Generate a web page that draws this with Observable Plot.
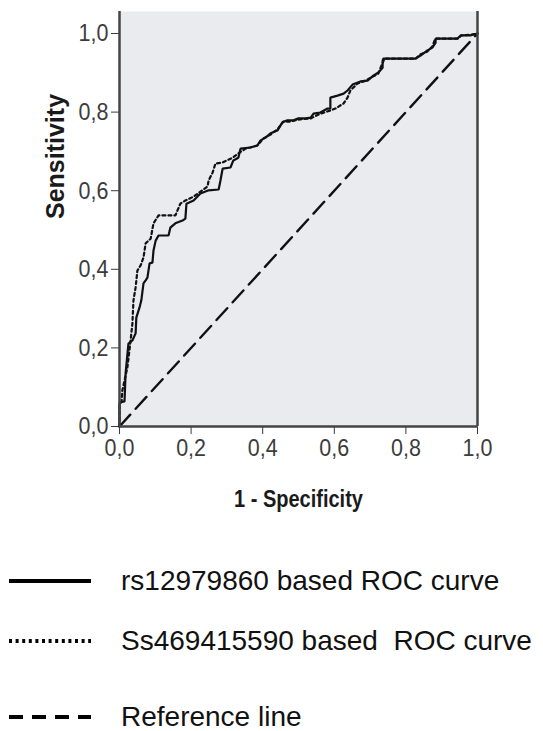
<!DOCTYPE html>
<html>
<head>
<meta charset="utf-8">
<script src="https://cdn.jsdelivr.net/npm/d3@7"></script>
<script src="https://cdn.jsdelivr.net/npm/@observablehq/plot@0.6"></script>
<style>
  html, body { margin: 0; padding: 0; background: #fff; }
  #wrap { position: relative; width: 543px; height: 731px; overflow: hidden; }
  #legend { position: absolute; left: 0; top: 530px; width: 543px; height: 201px; }
  .item { position: absolute; left: 0; width: 543px; height: 40px; }
  .item svg { position: absolute; left: 0; top: 0; }
  .item span { position: absolute; left: 121px; top: 0; line-height: 40px; font-family: "Liberation Sans", Arial, sans-serif; font-size: 28px; color: #111; white-space: pre; }
</style>
</head>
<body>
<div id="wrap"><div id="chart"></div><div id="legend"></div></div>
<script>
// ---- data ----
const solidX = [0, 0, 0.014, 0.017, 0.025, 0.036, 0.045, 0.047, 0.056, 0.061, 0.067, 0.073, 0.078, 0.084, 0.092, 0.095, 0.101, 0.109, 0.137, 0.142, 0.156, 0.176, 0.184, 0.187, 0.207, 0.226, 0.249, 0.277, 0.282, 0.288, 0.310, 0.318, 0.332, 0.338, 0.366, 0.385, 0.394, 0.408, 0.422, 0.441, 0.455, 0.469, 0.486, 0.500, 0.520, 0.534, 0.542, 0.561, 0.581, 0.589, 0.589, 0.609, 0.626, 0.637, 0.651, 0.673, 0.693, 0.709, 0.723, 0.735, 0.735, 0.737, 0.827, 0.841, 0.860, 0.874, 0.883, 0.883, 0.944, 0.953, 0.980, 1];
const solidY = [0, 0.061, 0.064, 0.135, 0.211, 0.219, 0.237, 0.277, 0.303, 0.321, 0.364, 0.372, 0.379, 0.415, 0.417, 0.448, 0.473, 0.486, 0.486, 0.506, 0.517, 0.524, 0.529, 0.567, 0.575, 0.593, 0.601, 0.603, 0.626, 0.656, 0.659, 0.677, 0.684, 0.707, 0.710, 0.715, 0.728, 0.735, 0.746, 0.753, 0.774, 0.779, 0.779, 0.784, 0.784, 0.786, 0.796, 0.799, 0.809, 0.809, 0.837, 0.842, 0.847, 0.855, 0.870, 0.878, 0.880, 0.893, 0.901, 0.913, 0.931, 0.936, 0.936, 0.944, 0.957, 0.964, 0.977, 0.987, 0.987, 0.995, 0.995, 1];
const dottedX = [0, 0, 0.006, 0.008, 0.022, 0.031, 0.036, 0.039, 0.045, 0.050, 0.059, 0.067, 0.073, 0.087, 0.095, 0.109, 0.156, 0.162, 0.170, 0.184, 0.207, 0.246, 0.249, 0.260, 0.268, 0.288, 0.316, 0.332, 0.352, 0.385, 0.402, 0.422, 0.441, 0.458, 0.478, 0.500, 0.534, 0.561, 0.589, 0.603, 0.626, 0.637, 0.645, 0.665, 0.687, 0.709, 0.723, 0.732, 0.740, 0.827, 0.841, 0.860, 0.874, 0.880, 0.885, 0.944, 0.955, 0.980, 1];
const dottedY = [0, 0.053, 0.066, 0.092, 0.150, 0.219, 0.262, 0.321, 0.354, 0.397, 0.410, 0.430, 0.466, 0.478, 0.517, 0.537, 0.537, 0.550, 0.567, 0.575, 0.585, 0.611, 0.626, 0.646, 0.669, 0.672, 0.684, 0.695, 0.707, 0.715, 0.733, 0.743, 0.756, 0.776, 0.776, 0.781, 0.784, 0.796, 0.804, 0.809, 0.822, 0.837, 0.855, 0.873, 0.880, 0.891, 0.898, 0.919, 0.936, 0.936, 0.947, 0.954, 0.967, 0.982, 0.987, 0.987, 0.995, 0.997, 1];
const refX = [0, 1];
const refY = [0, 1];
const tickValues = [0, 0.2, 0.4, 0.6, 0.8, 1.0];
const xTitle = "1 - Specificity";
const yTitle = "Sensitivity";
const legendLabels = ["rs12979860 based ROC curve", "Ss469415590 based  ROC curve", "Reference line"];

const toRows = (xs, ys) => xs.map((x, i) => ({x, y: ys[i]}));
const solid = toRows(solidX, solidY);
const dotted = toRows(dottedX, dottedY);
const ref = toRows(refX, refY);
const fmt = d => d.toFixed(1).replace(".", ",");

const chart = Plot.plot({
  width: 543,
  height: 530,
  marginLeft: 119,
  marginRight: 66,
  marginTop: 11,
  marginBottom: 104,
  style: {fontFamily: "'Liberation Sans', Arial, sans-serif", fontSize: "21.5px", color: "#3c3c3c", background: "#fff", overflow: "visible"},
  x: {domain: [0, 1], ticks: tickValues, tickFormat: fmt, tickSize: 8, tickPadding: 5, label: null},
  y: {domain: [0, 1.056], ticks: tickValues, tickFormat: fmt, tickSize: 8, tickPadding: 3, label: null},
  marks: [
    Plot.frame({fill: "#eaebee", stroke: "none"}),
    Plot.line(ref, {x: "x", y: "y", stroke: "#111", strokeWidth: 2.4, strokeDasharray: "16,8"}),
    Plot.line(dotted, {x: "x", y: "y", stroke: "#111", strokeWidth: 2.2, strokeDasharray: "3,3", strokeLinejoin: "miter", curve: "linear"}),
    Plot.line(solid, {x: "x", y: "y", stroke: "#111", strokeWidth: 2.2, strokeLinejoin: "miter", curve: "linear"}),
    Plot.ruleX([0, 1], {stroke: "#444", strokeWidth: 2.5}),
    Plot.ruleY([0], {stroke: "#444", strokeWidth: 2.5}),
    Plot.text([xTitle], {text: d => d, frameAnchor: "bottom", dy: 79, fontWeight: "bold", fontSize: 20, fill: "#1a1a1a"}),
    Plot.text([yTitle], {text: d => d, frameAnchor: "left", dx: -64, rotate: -90, fontWeight: "bold", fontSize: 25, fill: "#1a1a1a"})
  ]
});
document.getElementById("chart").append(chart);

// the original's axis texts are slightly stretched vertically; stretch non-rotated chart texts about their centre
d3.select(chart).selectAll("text").each(function () {
  const t = this.getAttribute("transform") || "";
  if (t.includes("rotate")) return;
  const b = this.getBBox();
  const cy = b.y + b.height / 2;
  this.setAttribute("transform", `${t} translate(0,${cy}) scale(1,1.15) translate(0,${-cy})`);
});

// legend
const legend = d3.select("#legend");
const styles = [
  {dash: null, cy: 51, w: 4},
  {dash: "3,3.6", cy: 111, w: 4},
  {dash: "14,9", cy: 187, w: 4}
];
legendLabels.forEach((label, i) => {
  const item = legend.append("div").attr("class", "item").style("top", `${styles[i].cy - 20}px`);
  const svg = item.append("svg").attr("width", 110).attr("height", 40);
  const ln = svg.append("line").attr("x1", 9).attr("x2", 91).attr("y1", 20).attr("y2", 20)
    .attr("stroke", "#000").attr("stroke-width", styles[i].w);
  if (styles[i].dash) ln.attr("stroke-dasharray", styles[i].dash);
  item.append("span").text(label);
});
</script>
</body>
</html>
